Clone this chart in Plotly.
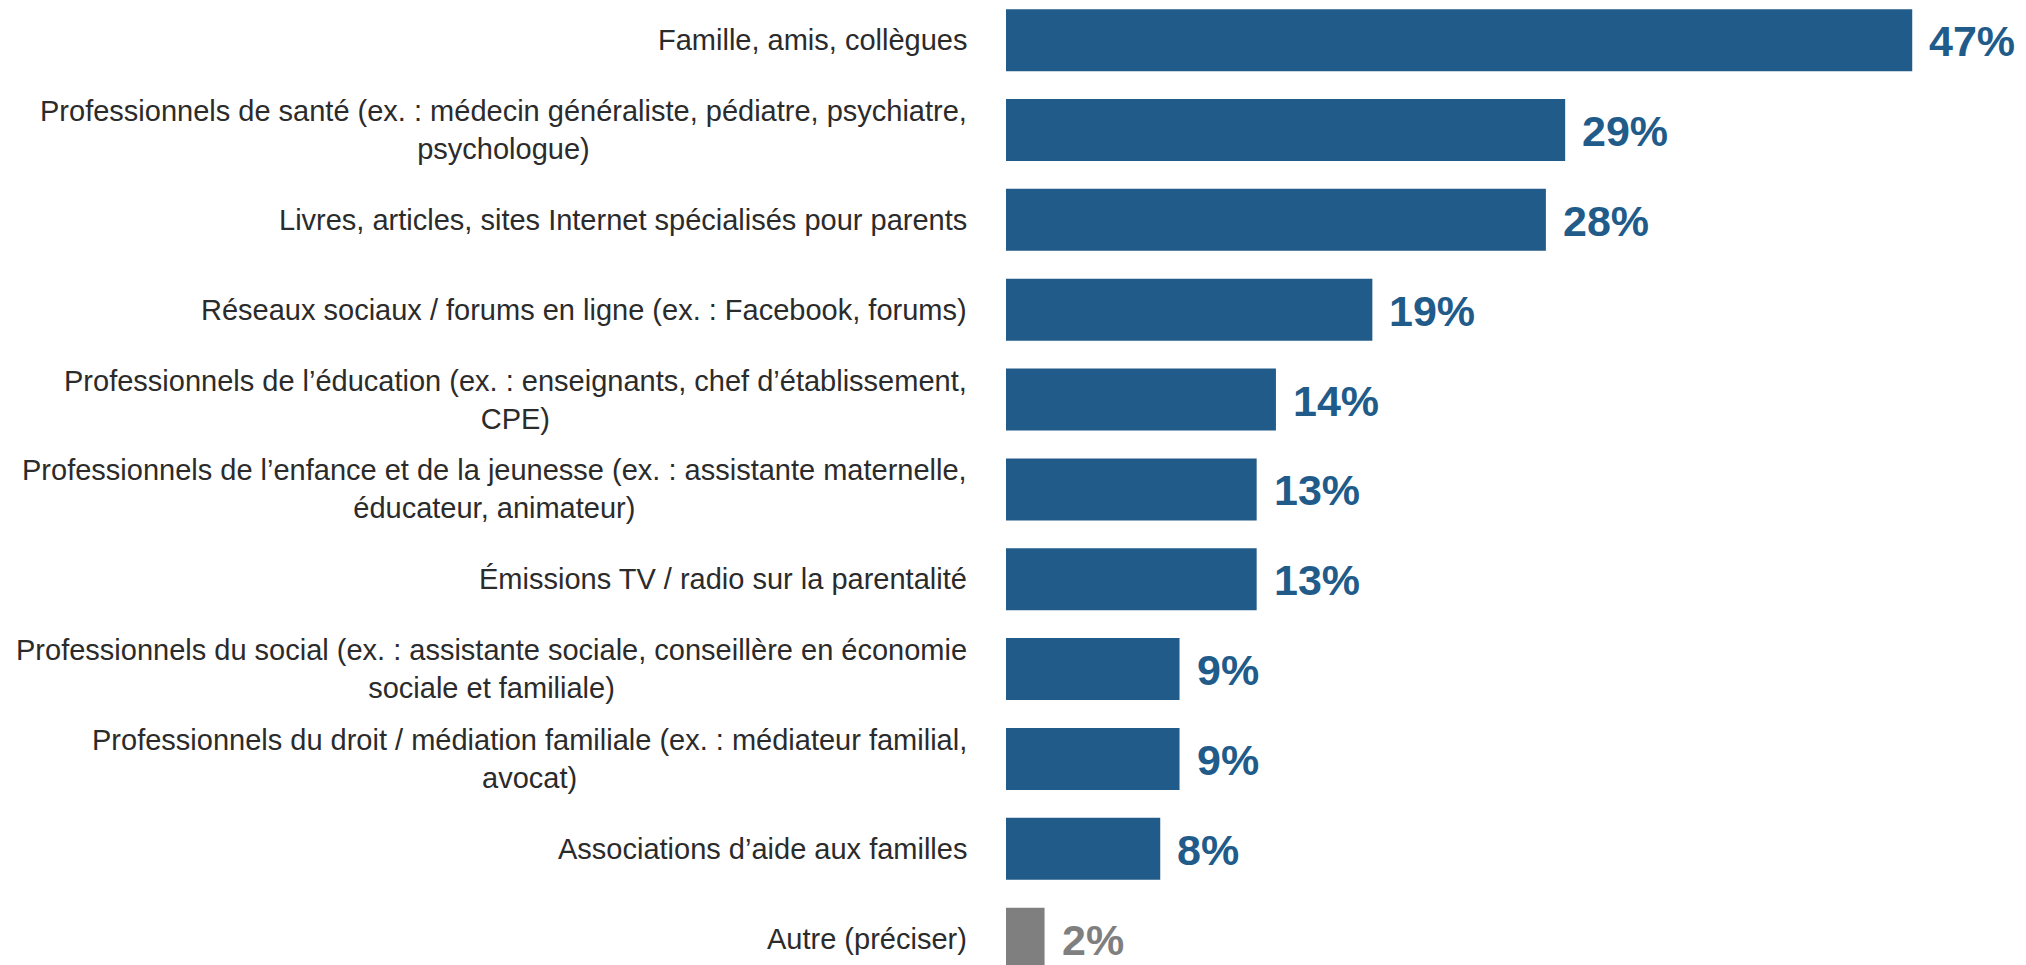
import plotly.graph_objects as go

categories = [
    "Famille, amis, collègues",
    "Professionnels de santé (ex. : médecin généraliste, pédiatre, psychiatre,<br>psychologue)",
    "Livres, articles, sites Internet spécialisés pour parents",
    "Réseaux sociaux / forums en ligne (ex. : Facebook, forums)",
    "Professionnels de l’éducation (ex. : enseignants, chef d’établissement,<br>CPE)",
    "Professionnels de l’enfance et de la jeunesse (ex. : assistante maternelle,<br>éducateur, animateur)",
    "Émissions TV / radio sur la parentalité",
    "Professionnels du social (ex. : assistante sociale, conseillère en économie<br>sociale et familiale)",
    "Professionnels du droit / médiation familiale (ex. : médiateur familial,<br>avocat)",
    "Associations d’aide aux familles",
    "Autre (préciser)",
]
values = [47, 29, 28, 19, 14, 13, 13, 9, 9, 8, 2]
value_labels = ["47%", "29%", "28%", "19%", "14%", "13%", "13%", "9%", "9%", "8%", "2%"]

BLUE = "#215B8A"
GREY = "#7F7F7F"
colors = [GREY if c.startswith("Autre") else BLUE for c in categories]

fig = go.Figure(
    go.Bar(
        x=values,
        y=categories,
        orientation="h",
        marker=dict(color=colors, line=dict(width=0)),
        width=0.69,
        hoverinfo="skip",
    )
)

annotations = []
for cat, val, lab, col in zip(categories, values, value_labels, colors):
    # category name, right-aligned against the bars, centred multi-line text
    annotations.append(dict(
        x=0, y=cat, xref="x", yref="y",
        text=cat, showarrow=False,
        xanchor="right", yanchor="middle", align="center",
        xshift=-37,
        font=dict(family="Liberation Sans, Arial, sans-serif", size=29, color="#2B2B2B"),
    ))
    # value label at the end of each bar
    annotations.append(dict(
        x=val, y=cat, xref="x", yref="y",
        text=f"<b>{lab}</b>", showarrow=False,
        xanchor="left", yanchor="middle",
        xshift=15, yshift=-1,
        font=dict(family="Liberation Sans, Arial, sans-serif", size=43, color=col),
    ))

fig.update_layout(
    width=2026, height=965,
    margin=dict(l=1006, r=0, t=0, b=0),
    paper_bgcolor="white", plot_bgcolor="white",
    showlegend=False,
    annotations=annotations,
    xaxis=dict(range=[0, 52.9], visible=False, fixedrange=True),
    yaxis=dict(
        type="category", categoryorder="array", categoryarray=categories,
        range=[10.293, -0.447], showticklabels=False, showgrid=False,
        zeroline=False, showline=False, ticks="", fixedrange=True,
    ),
)

fig.write_html("out.html", config={"displayModeBar": False})
